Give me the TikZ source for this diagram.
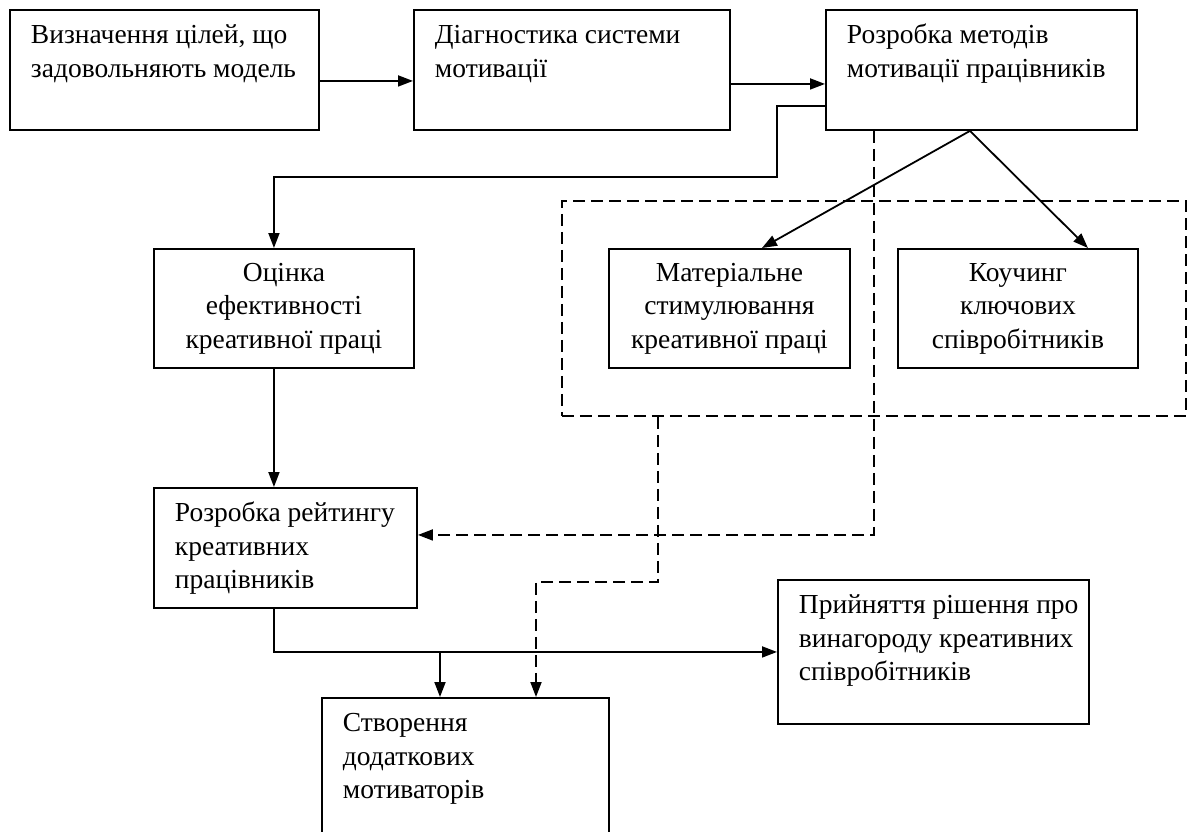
\documentclass[tikz,border=0pt]{standalone}
\usepackage{fontspec}
\setmainfont{Liberation Serif}
\usetikzlibrary{arrows.meta}
\newcommand\tltext[3]{\parbox[c][#2][t]{#1}{\leftskip=21pt\rightskip=0pt plus 1fil\rule{0pt}{34pt}#3\par}}
\begin{document}
\begin{tikzpicture}[x=1pt,y=-1pt,
  box/.style={draw, line width=1.9pt, rectangle, anchor=north west, inner sep=0pt, font=\fontsize{27.5}{33.5}\selectfont},
  cbox/.style={box, align=center},
  arr/.style={line width=1.8pt, -{Triangle[length=15pt,width=11pt]}},
  dsh/.style={dash pattern=on 12pt off 6pt},
]
\clip (0,0) rectangle (1189,831);
\fill[white] (0,0) rectangle (1189,831);

\node[box, minimum width=309pt, minimum height=120pt] (A) at (9,9)
  {\tltext{309pt}{120pt}{Визначення цілей, що\\задовольняють модель}};
\node[box, minimum width=316pt, minimum height=120pt] (B) at (413,9)
  {\tltext{316pt}{120pt}{Діагностика системи\\мотивації}};
\node[box, minimum width=311pt, minimum height=120pt] (C) at (825,9)
  {\tltext{311pt}{120pt}{Розробка методів\\мотивації працівників}};

\node[cbox, minimum width=260pt, minimum height=119pt] (D) at (153,248)
  {Оцінка\\ефективності\\креативної праці};
\node[draw, dsh, line width=1.9pt, anchor=north west, inner sep=0pt,
  minimum width=624pt, minimum height=215pt] (grp) at (561,200) {};
\node[cbox, minimum width=241pt, minimum height=119pt] (E) at (608,248)
  {Матеріальне\\стимулювання\\креативної праці};
\node[cbox, minimum width=240pt, minimum height=119pt] (F) at (897,248)
  {Коучинг\\ключових\\співробітників};

\node[box, minimum width=263pt, minimum height=120pt] (G) at (153,487)
  {\tltext{263pt}{120pt}{Розробка рейтингу\\креативних\\працівників}};
\node[box, minimum width=287pt, minimum height=170pt] (H) at (321,697)
  {\tltext{287pt}{170pt}{Створення\\додаткових\\мотиваторів}};
\node[box, minimum width=311pt, minimum height=144pt] (I) at (777,579)
  {\tltext{311pt}{144pt}{Прийняття рішення про\\винагороду креативних\\співробітників}};

% top row
\draw[arr] ([yshift=-11pt]A.east) -- ([yshift=-11pt]B.west);
\draw[arr] ([yshift=-14pt]B.east) -- ([yshift=-14pt]C.west);

% C to D
\coordinate (c1) at (777,177);
\draw[arr] ([yshift=-36pt]C.west) -| (c1) -| ([xshift=-10pt]D.north);

% C to E, F
\coordinate (cs) at ([xshift=-11.5pt]C.south);
\draw[arr] (cs) -- ([xshift=32.5pt]E.north);
\draw[arr] (cs) -- ([xshift=70pt]F.north);

% dashed C to G
\draw[arr, dsh] ([xshift=-107.5pt]C.south) |- ([yshift=13pt]G.east);

% D to G
\draw[arr] ([xshift=-10pt]D.south) -- ([xshift=-11.5pt]G.north);

% dashed group to H
\coordinate (d2) at (536,582);
\draw[arr, dsh] ([xshift=-216pt]grp.south) |- (d2) -- (d2 |- H.north);

% G to I and H
\draw[arr] ([xshift=-11.5pt]G.south) |- (I.west);
\coordinate (j) at (440,651);
\draw[arr] (j) -- (j |- H.north);
\end{tikzpicture}
\end{document}
